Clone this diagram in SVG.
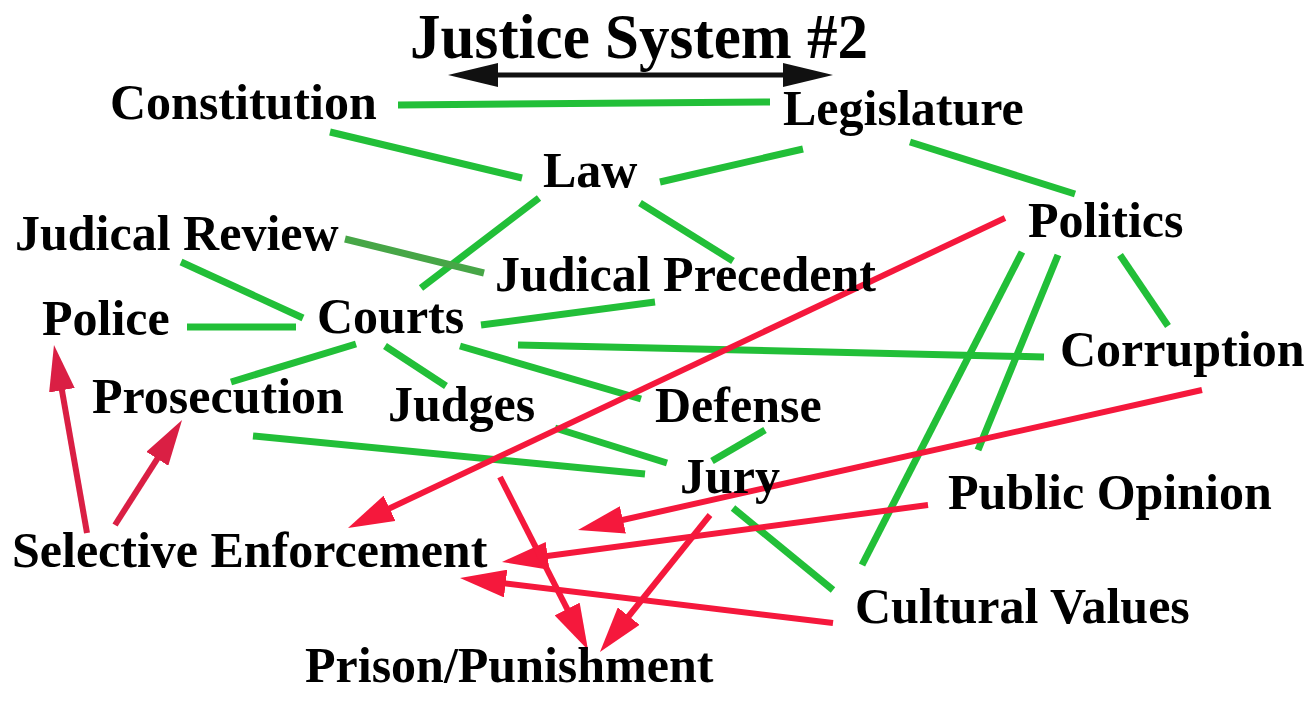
<svg xmlns="http://www.w3.org/2000/svg" width="1309" height="718" viewBox="0 0 1309 718">
<style>
  .lbl { font-family: "Liberation Serif", "Times New Roman", serif; font-weight: bold; font-size: 50px; fill: #000; }
  .title { font-family: "Liberation Serif", "Times New Roman", serif; font-weight: bold; font-size: 64px; fill: #000; }
  .g { stroke: #22bf38; stroke-width: 7; fill: none; }
  .dg { stroke: #47a647; stroke-width: 7; fill: none; }
  .r { stroke: #f5183c; stroke-width: 6; fill: none; marker-end: url(#ahRed); }
  .c { stroke: #da1f44; stroke-width: 6; fill: none; marker-end: url(#ahCrimson); }
</style>
<defs>
  <marker id="ahRed" viewBox="0 0 46 28" markerWidth="46" markerHeight="28" markerUnits="userSpaceOnUse" refX="21" refY="14" orient="auto">
    <path d="M0,0 L46,14 L0,28 Z" fill="#f5183c"/>
  </marker>
  <marker id="ahCrimson" viewBox="0 0 46 26" markerWidth="46" markerHeight="26" markerUnits="userSpaceOnUse" refX="21" refY="13" orient="auto">
    <path d="M0,0 L46,13 L0,26 Z" fill="#da1f44"/>
  </marker>
  <marker id="ahBlack" viewBox="0 0 50 24" markerWidth="50" markerHeight="24" markerUnits="userSpaceOnUse" refX="25" refY="12" orient="auto-start-reverse">
    <path d="M0,0 L50,12 L0,24 Z" fill="#111"/>
  </marker>
</defs>
<rect width="1309" height="718" fill="#fff"/>

<g id="title">
  <text class="title" x="410" y="58" textLength="458" lengthAdjust="spacingAndGlyphs">Justice System #2</text>
  <line x1="473" y1="75" x2="808" y2="75" stroke="#111" stroke-width="5" marker-start="url(#ahBlack)" marker-end="url(#ahBlack)"/>
</g>

<g id="connectors">
  <line class="g" x1="398" y1="105" x2="770" y2="102"/>
  <line class="g" x1="330" y1="132" x2="522" y2="178"/>
  <line class="g" x1="660" y1="182" x2="803" y2="149"/>
  <line class="g" x1="910" y1="142" x2="1075" y2="194"/>
  <line class="g" x1="539" y1="198" x2="421" y2="288"/>
  <line class="g" x1="640" y1="203" x2="733" y2="261"/>
  <line class="dg" x1="345" y1="239" x2="484" y2="273"/>
  <line class="g" x1="181" y1="262" x2="303" y2="318"/>
  <line class="g" x1="187" y1="327" x2="296" y2="327"/>
  <line class="g" x1="481" y1="325" x2="655" y2="302"/>
  <line class="g" x1="518" y1="345" x2="1044" y2="357"/>
  <line class="g" x1="231" y1="382" x2="356" y2="344"/>
  <line class="g" x1="385" y1="346" x2="446" y2="386"/>
  <line class="g" x1="460" y1="346" x2="641" y2="399"/>
  <line class="g" x1="555" y1="428" x2="667" y2="463"/>
  <line class="g" x1="253" y1="436" x2="645" y2="474"/>
  <line class="g" x1="765" y1="430" x2="712" y2="461"/>
  <line class="g" x1="733" y1="508" x2="833" y2="590"/>
  <line class="g" x1="1058" y1="255" x2="978" y2="450"/>
  <line class="g" x1="1022" y1="252" x2="862" y2="565"/>
  <line class="g" x1="1120" y1="255" x2="1168" y2="326"/>

  <line class="r" x1="1005" y1="218" x2="370.6" y2="517.3"/>
  <line class="r" x1="1202" y1="390" x2="602.4" y2="524.5"/>
  <line class="r" x1="928" y1="505" x2="526.8" y2="558.7"/>
  <line class="r" x1="833" y1="623" x2="484.8" y2="581"/>
  <line class="r" x1="500" y1="477" x2="576.7" y2="627.7"/>
  <line class="r" x1="710" y1="515" x2="615.6" y2="632.5"/>
  <line class="c" x1="87" y1="533" x2="58.3" y2="369.6"/>
  <line class="c" x1="115" y1="525" x2="168.6" y2="441.1"/>
</g>

<g id="constitution"><text class="lbl" x="110" y="119">Constitution</text></g>
<g id="legislature"><text class="lbl" x="783" y="125">Legislature</text></g>
<g id="law"><text class="lbl" x="543" y="187">Law</text></g>
<g id="politics"><text class="lbl" x="1028" y="237">Politics</text></g>
<g id="judical-review"><text class="lbl" x="15" y="250">Judical Review</text></g>
<g id="judical-precedent"><text class="lbl" x="495" y="291">Judical Precedent</text></g>
<g id="police"><text class="lbl" x="42" y="335">Police</text></g>
<g id="courts"><text class="lbl" x="317" y="333">Courts</text></g>
<g id="corruption"><text class="lbl" x="1060" y="366">Corruption</text></g>
<g id="prosecution"><text class="lbl" x="92" y="413">Prosecution</text></g>
<g id="judges"><text class="lbl" x="388" y="421">Judges</text></g>
<g id="defense"><text class="lbl" x="655" y="422">Defense</text></g>
<g id="jury"><text class="lbl" x="680" y="493">Jury</text></g>
<g id="public-opinion"><text class="lbl" x="948" y="509">Public Opinion</text></g>
<g id="selective-enforcement"><text class="lbl" x="12" y="567">Selective Enforcement</text></g>
<g id="cultural-values"><text class="lbl" x="855" y="623">Cultural Values</text></g>
<g id="prison"><text class="lbl" x="305" y="682">Prison/Punishment</text></g>
</svg>
